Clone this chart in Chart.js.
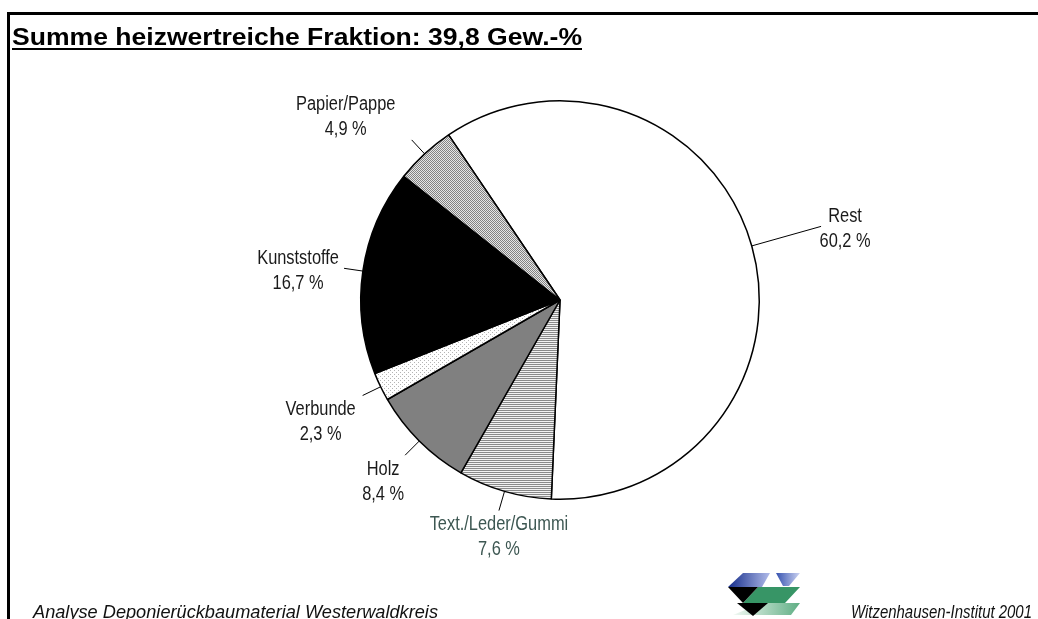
<!DOCTYPE html>
<html><head><meta charset="utf-8">
<script src="https://cdn.jsdelivr.net/npm/chart.js@4"></script>
<style>html,body{margin:0;padding:0;background:#fff}canvas{display:block}</style>
</head><body>
<canvas id="c" width="1038" height="619"></canvas>
<script>
const categories = ['Rest', 'Text./Leder/Gummi', 'Holz', 'Verbunde', 'Kunststoffe', 'Papier/Pappe'];
const values = [60.2, 7.6, 8.4, 2.3, 16.7, 4.9];
const valueLabels = ['60,2 %', '7,6 %', '8,4 %', '2,3 %', '16,7 %', '4,9 %'];
const titleText = 'Summe heizwertreiche Fraktion: 39,8 Gew.-%';
const footerLeft = 'Analyse Deponierückbaumaterial Westerwaldkreis';
const footerRight = 'Witzenhausen-Institut 2001';

const canvas = document.getElementById('c');
const mainCtx = canvas.getContext('2d');

function makePattern(w, h, bg, fg, pts) {
  const t = document.createElement('canvas');
  t.width = w; t.height = h;
  const x = t.getContext('2d');
  x.fillStyle = bg; x.fillRect(0, 0, w, h);
  x.fillStyle = fg;
  pts.forEach(p => x.fillRect(p[0], p[1], 1, 1));
  return mainCtx.createPattern(t, 'repeat');
}
const patPapier = makePattern(2, 2, '#e6e6e6', '#838383', [[0,0],[1,1]]);
const patVerbunde = makePattern(4, 4, '#ffffff', '#b4b4b4', [[0,0],[2,2]]);
const patTextil = makePattern(2, 2, '#f2f2f2', '#8a8a8a', [[0,0],[1,0]]);

const fills = ['#ffffff', patTextil, '#808080', patVerbunde, '#000000', patPapier];

// layout of labels (leader length and text offset from leader end)
const leaderLen = [72, 20, 20, 20, 19, 19];
const textOffset = [[24, 2], [0, 26], [-22, 26], [-42, 26], [-46, 2], [-66, -23]];
const labelColors = ['#1a1a1a', '#3d5752', '#1a1a1a', '#1a1a1a', '#1a1a1a', '#1a1a1a'];

const SANS = '"Liberation Sans", Arimo, Arial, "DejaVu Sans", sans-serif';
function narrowFont(ctx, size, style) {
  const st = style ? style + ' ' : '';
  ctx.font = st + size + 'px "Liberation Sans Narrow", ' + SANS;
  const a = ctx.measureText('Kunststoffe Westerwald').width;
  ctx.font = st + size + 'px ' + SANS;
  const b = ctx.measureText('Kunststoffe Westerwald').width;
  if (a < b - 2) {
    ctx.font = st + size + 'px "Liberation Sans Narrow", ' + SANS;
    return 1;
  }
  return 0.82;
}

function fitText(ctx, text, x, y, targetW, align) {
  const w = ctx.measureText(text).width;
  const s = targetW / w;
  ctx.save();
  ctx.textAlign = 'left';
  const x0 = align === 'right' ? x - targetW : x;
  ctx.translate(x0, y);
  ctx.scale(s, 1);
  ctx.fillText(text, 0, 0);
  ctx.restore();
}

function poly(ctx, pts, fill) {
  ctx.beginPath();
  ctx.moveTo(pts[0][0], pts[0][1]);
  for (let i = 1; i < pts.length; i++) ctx.lineTo(pts[i][0], pts[i][1]);
  ctx.closePath();
  ctx.fillStyle = fill;
  ctx.fill();
}

const decor = {
  id: 'decor',
  afterDraw(chart) {
    const ctx = chart.ctx;
    const meta = chart.getDatasetMeta(0);
    ctx.save();
    // frame
    ctx.fillStyle = '#000';
    ctx.fillRect(7, 12, 1031, 3);
    ctx.fillRect(7, 12, 3, 607);

    // title
    ctx.fillStyle = '#000';
    ctx.font = 'bold 23px ' + SANS;
    ctx.textBaseline = 'alphabetic';
    fitText(ctx, titleText, 12, 45, 570, 'left');
    ctx.fillRect(12, 48, 570, 2);

    // labels
    meta.data.forEach((arc, i) => {
      const p = arc.getProps(['x', 'y', 'startAngle', 'endAngle', 'outerRadius'], true);
      const mid = (p.startAngle + p.endAngle) / 2;
      const r0 = p.outerRadius;
      const r1 = r0 + leaderLen[i];
      const sx = p.x + Math.cos(mid) * r0, sy = p.y + Math.sin(mid) * r0;
      const ex = p.x + Math.cos(mid) * r1, ey = p.y + Math.sin(mid) * r1;
      ctx.beginPath();
      ctx.moveTo(sx, sy); ctx.lineTo(ex, ey);
      ctx.strokeStyle = '#000'; ctx.lineWidth = 1;
      ctx.stroke();
      const cx = ex + textOffset[i][0], cy = ey + textOffset[i][1];
      const sc = narrowFont(ctx, 20, '');
      ctx.fillStyle = labelColors[i];
      ctx.textAlign = 'center';
      ctx.textBaseline = 'middle';
      [categories[i], valueLabels[i]].forEach((t, k) => {
        ctx.save();
        ctx.translate(cx, cy - 12 + k * 25);
        ctx.scale(sc, 1);
        ctx.fillText(t, 0, 0);
        ctx.restore();
      });
    });

    // footer
    ctx.fillStyle = '#111';
    ctx.textBaseline = 'alphabetic';
    narrowFont(ctx, 19, 'italic');
    fitText(ctx, footerLeft, 33, 618, 405, 'left');
    fitText(ctx, footerRight, 1032, 618, 181, 'right');

    // logo
    let g = ctx.createLinearGradient(728, 0, 772, 0);
    g.addColorStop(0, '#142c8a'); g.addColorStop(1, '#b8c2ee');
    poly(ctx, [[743,573],[770,573],[762,587],[728,587]], g);
    g = ctx.createLinearGradient(774, 0, 800, 0);
    g.addColorStop(0, '#2a48aa'); g.addColorStop(1, '#cdd4f2');
    poly(ctx, [[776,573],[800,573],[789,586],[783,586]], g);
    g = ctx.createLinearGradient(733, 0, 800, 0);
    g.addColorStop(0, '#f2f9f4'); g.addColorStop(1, '#5fae84');
    poly(ctx, [[762,603],[800,603],[791,615],[733,615]], g);
    poly(ctx, [[758,587],[800,587],[785,603],[743,603]], '#379566');
    poly(ctx, [[728,587],[758,587],[743,603]], '#000');
    poly(ctx, [[737,603],[768,603],[753,616]], '#000');
    ctx.restore();
  }
};

new Chart(canvas, {
  type: 'pie',
  data: {
    labels: categories,
    datasets: [{
      data: values,
      backgroundColor: fills,
      borderColor: '#000',
      borderWidth: 1.5
    }]
  },
  options: {
    responsive: false,
    animation: false,
    rotation: -34,
    layout: { padding: { left: 360, right: 278, top: 100, bottom: 119 } },
    plugins: {
      legend: { display: false },
      tooltip: { enabled: false },
      title: { display: false }
    }
  },
  plugins: [decor]
});
</script>
</body></html>
